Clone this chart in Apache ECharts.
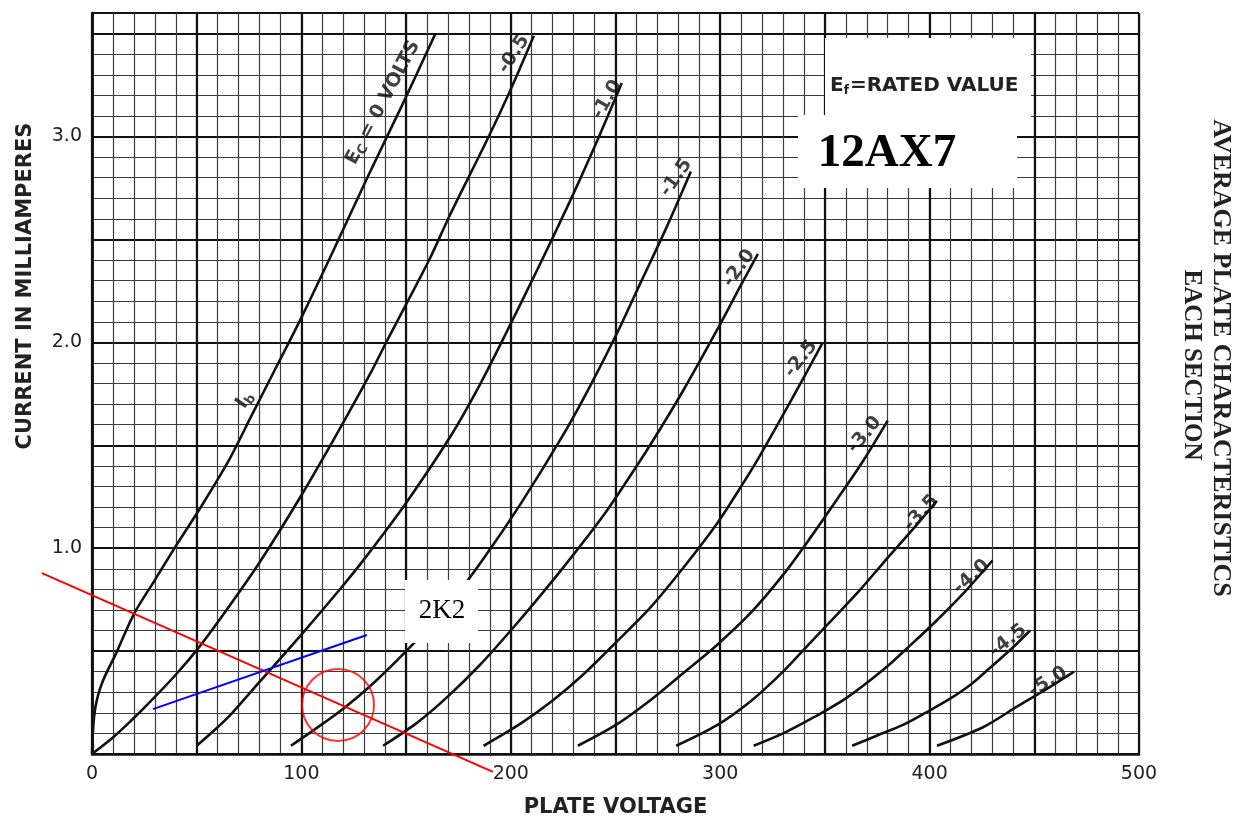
<!DOCTYPE html>
<html>
<head>
<meta charset="utf-8">
<script src="https://cdn.jsdelivr.net/npm/echarts@6/dist/echarts.min.js"></script>
<style>
html,body{margin:0;padding:0;background:#fff;}
#c{width:1237px;height:820px;}
</style>
</head>
<body>
<div id="c"></div>
<script>
// ---- data (plate voltage V, plate current mA) ----
const ec0   = [[0,0],[0.5,0.12],[1.5,0.22],[3,0.29],[5,0.35],[7.2,0.40],[12,0.50],[20,0.68],[30,0.845],[40,1.01],[52,1.20],[65,1.42],[76,1.64],[88,1.88],[100,2.12],[115,2.44],[131,2.79],[148,3.15],[164,3.50]];
const ecM05 = [[0,0],[10,0.08],[19,0.165],[25,0.225],[40,0.385],[52,0.53],[65,0.71],[80,0.93],[99,1.24],[115,1.52],[133,1.85],[141,2.01],[161,2.40],[171,2.62],[189,2.99],[200,3.23],[211,3.49]];
const ecM10 = [[50,0.04],[60,0.13],[67,0.20],[80,0.35],[100,0.58],[120,0.82],[131,0.96],[150,1.22],[171,1.54],[185,1.79],[198,2.05],[213,2.36],[228,2.68],[240,2.95],[253,3.26]];
const ecM15 = [[95,0.04],[105,0.11],[120,0.22],[135,0.35],[152,0.52],[170,0.72],[187,0.95],[205,1.22],[225,1.55],[238,1.79],[251,2.05],[262,2.29],[274,2.55],[286,2.83]];
const ecM20 = [[139,0.04],[155,0.15],[170,0.28],[185,0.43],[200,0.60],[215,0.78],[230,0.97],[245,1.17],[255,1.32],[266.5,1.50],[282,1.76],[298.5,2.06],[310,2.28],[318,2.43]];
const ecM25 = [[187,0.04],[205,0.15],[220,0.26],[235,0.39],[250,0.54],[266.5,0.71],[282,0.90],[298.5,1.12],[310,1.30],[319,1.45],[334,1.72],[349,2.0]];
const ecM30 = [[232,0.04],[250,0.14],[266.5,0.26],[282,0.39],[298.5,0.53],[315,0.69],[330,0.87],[343,1.05],[356,1.24],[368,1.42],[380,1.62]];
const ecM35 = [[279,0.04],[298.5,0.14],[315,0.26],[330,0.40],[343,0.54],[356,0.68],[367,0.80],[378,0.93],[391,1.08],[403.5,1.23]];
const ecM40 = [[316,0.04],[330,0.10],[345,0.18],[360,0.27],[378,0.41],[391,0.53],[403.5,0.65],[417,0.79],[430,0.94]];
const ecM45 = [[363,0.04],[375,0.09],[387,0.14],[398,0.20],[410,0.27],[420,0.34],[429,0.42],[440,0.52],[448,0.60]];
const ecM50 = [[403.5,0.04],[425.5,0.13],[441.7,0.23],[455,0.31],[469,0.40]];
const curves = [ec0, ecM05, ecM10, ecM15, ecM20, ecM25, ecM30, ecM35, ecM40, ecM45, ecM50];

// curve labels: [V, mA, text, angle]
const curveLabels = [
  [139, 3.165, '{a|E}{s|C}{a| = 0 VOLTS}', 62],
  [73, 1.72, '{a|I}{s|b}', 55],
  [201.5, 3.40, '-0.5', 57],
  [246, 3.18, '-1.0', 60],
  [279, 2.80, '-1.5', 55],
  [309, 2.36, '-2.0', 55],
  [338.6, 1.92, '-2.5', 52],
  [369, 1.55, '-3.0', 50],
  [396, 1.17, '-3.5', 47],
  [420, 0.86, '-4.0', 42],
  [437.5, 0.55, '-4.5', 38],
  [456.5, 0.35, '-5.0', 32]
];

// hand-drawn annotations
const redLine  = [[-23.9, 0.879], [191.5, -0.087]];
const blueLine = [[29.1, 0.218], [131.3, 0.578]];
const redCircle = [[117.5, 0.238]];

// ticks
const xMajor = 50, xMinor = 10, xLabelStep = 100;
const yMajor = 0.5, yMinor = 0.1;

const chart = echarts.init(document.getElementById('c'), null, {renderer: 'canvas'});

const thin = {color: '#3c3c3c', width: 1.2};
const thick = {color: '#111', width: 2.2};
const tickFont = {fontFamily: 'DejaVu Sans', fontSize: 19, color: '#222'};

const series = curves.map(d => ({
  type: 'line', data: d, smooth: 0.3, showSymbol: false,
  lineStyle: {color: '#111', width: 2.6}, silent: true, z: 5
}));

series.push({
  type: 'scatter', symbolSize: 0, silent: true, z: 6,
  data: curveLabels.map(l => ({value: [l[0], l[1]], name: l[2], label: {rotate: l[3]}})),
  label: {
    show: true, position: 'inside', formatter: p => p.name,
    fontFamily: 'DejaVu Sans', fontSize: 19, fontWeight: 'bold', color: '#111',
    rich: {
      a: {fontFamily: 'DejaVu Sans', fontSize: 19, fontWeight: 'bold', color: '#111'},
      s: {fontFamily: 'DejaVu Sans', fontSize: 13, fontWeight: 'bold', color: '#111', padding: [9, 0, 0, 0]}
    }
  }
});

series.push({
  type: 'scatter', data: redCircle, symbol: 'circle', symbolSize: 72, silent: true, z: 8,
  itemStyle: {color: 'rgba(0,0,0,0)', borderColor: '#ff0000', borderWidth: 2}
});

const graphics = [
  {type: 'rect', shape: {x: 825, y: 38, width: 206, height: 80}, style: {fill: '#fff'}, z: 20},
  {type: 'text', x: 830, y: 86, z: 21, style: {
    text: '{e|E}{f|f}{e|=RATED VALUE}', textVerticalAlign: 'middle', verticalAlign: 'middle',
    rich: {
      e: {fontFamily: 'DejaVu Sans', fontWeight: 'bold', fontSize: 20, fill: '#222'},
      f: {fontFamily: 'DejaVu Sans', fontWeight: 'bold', fontSize: 12, fill: '#222', padding: [9, 1, 0, 0]}
    }
  }},
  {type: 'rect', shape: {x: 798, y: 115, width: 219, height: 73}, style: {fill: '#fff'}, z: 20},
  {type: 'text', x: 887, y: 154, z: 21, style: {
    text: '12AX7', textAlign: 'center', align: 'center', textVerticalAlign: 'middle', verticalAlign: 'middle',
    fontFamily: 'Liberation Serif', fontWeight: 'bold', fontSize: 47, fill: '#000'
  }},
  {type: 'rect', shape: {x: 405, y: 580, width: 73, height: 63}, style: {fill: '#fff'}, z: 20},
  {type: 'text', x: 442, y: 611, z: 21, style: {
    text: '2K2', textAlign: 'center', align: 'center', textVerticalAlign: 'middle', verticalAlign: 'middle',
    fontFamily: 'Liberation Serif', fontSize: 27, fill: '#000'
  }},
  {type: 'text', x: 26, y: 286, rotation: Math.PI / 2, z: 21, style: {
    text: 'CURRENT IN MILLIAMPERES', textAlign: 'center', align: 'center', textVerticalAlign: 'middle', verticalAlign: 'middle',
    fontFamily: 'DejaVu Sans', fontWeight: 'bold', fontSize: 21, fill: '#222'
  }},
  {type: 'text', x: 1221, y: 358, rotation: -Math.PI / 2, z: 21, style: {
    text: 'AVERAGE PLATE CHARACTERISTICS', textAlign: 'center', align: 'center', textVerticalAlign: 'middle', verticalAlign: 'middle',
    fontFamily: 'Liberation Serif', fontWeight: 'bold', fontSize: 26, fill: '#222'
  }},
  {type: 'text', x: 1191, y: 365, rotation: -Math.PI / 2, z: 21, style: {
    text: 'EACH SECTION', textAlign: 'center', align: 'center', textVerticalAlign: 'middle', verticalAlign: 'middle',
    fontFamily: 'Liberation Serif', fontWeight: 'bold', fontSize: 25, fill: '#222'
  }}
];

chart.setOption({
  animation: false,
  backgroundColor: '#fff',
  grid: {left: 92, right: 98, top: 13, bottom: 66, containLabel: false, outerBoundsMode: 'none'},
  xAxis: [{
    type: 'value', min: 0, max: 500, interval: xMinor,
    name: 'PLATE VOLTAGE', nameLocation: 'middle', nameGap: 43,
    nameTextStyle: {fontFamily: 'DejaVu Sans', fontWeight: 'bold', fontSize: 21, color: '#222'},
    axisLine: {show: true, lineStyle: {color: '#111', width: 2.5}},
    axisTick: {show: false},
    axisLabel: Object.assign({margin: 11, formatter: v => (Math.round(v) % xLabelStep === 0 ? String(Math.round(v)) : '')}, tickFont),
    splitLine: {show: true, lineStyle: thin}
  }, {
    type: 'value', min: 0, max: 500, interval: xMajor, position: 'top',
    axisLine: {show: false}, axisTick: {show: false}, axisLabel: {show: false},
    splitLine: {show: true, lineStyle: thick}
  }],
  yAxis: [{
    type: 'value', min: 0, max: 3.6, interval: yMinor,
    axisLine: {show: true, lineStyle: {color: '#111', width: 2.5}},
    axisTick: {show: false},
    axisLabel: Object.assign({margin: 10, formatter: v => {
      const t = Math.round(v * 10);
      return (t > 0 && t % 10 === 0) ? (t / 10).toFixed(1) : '';
    }}, tickFont),
    splitLine: {show: true, lineStyle: thin}
  }, {
    type: 'value', min: 0, max: 3.6, interval: yMajor, position: 'right',
    axisLine: {show: true, lineStyle: {color: '#111', width: 2.5}}, axisTick: {show: false}, axisLabel: {show: false},
    splitLine: {show: true, lineStyle: thick}
  }],
  series: series,
  graphic: graphics
});

// hand-drawn straight lines, placed through the chart's own scales (may extend beyond the plot)
const toPx = p => chart.convertToPixel({xAxisIndex: 0, yAxisIndex: 0}, p);
chart.setOption({
  graphic: graphics.concat([
    {type: 'polyline', z: 15, shape: {points: redLine.map(toPx)}, style: {stroke: '#ff0000', lineWidth: 2, fill: null}},
    {type: 'polyline', z: 15, shape: {points: blueLine.map(toPx)}, style: {stroke: '#0000ff', lineWidth: 2, fill: null}}
  ])
}, {replaceMerge: ['graphic']});
</script>
</body>
</html>
